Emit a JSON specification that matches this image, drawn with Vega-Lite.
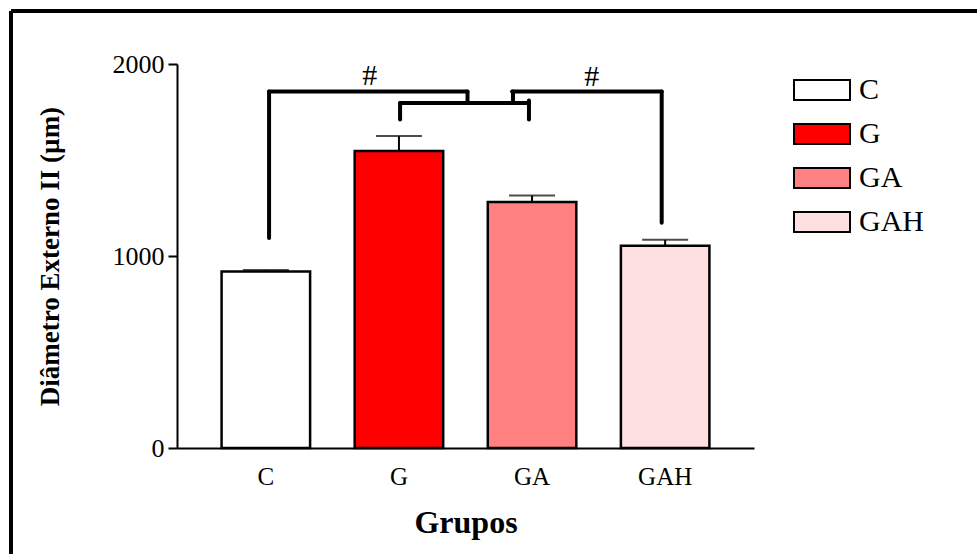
{
  "$schema": "https://vega.github.io/schema/vega-lite/v6.json",
  "width": 966,
  "height": 543,
  "autosize": {"type": "none"},
  "padding": {"left": 11, "top": 11, "right": 0, "bottom": 0},
  "background": "white",
  "config": {
    "view": {"stroke": "black", "strokeWidth": 4, "fill": "white", "strokeDash": [966, 1509, 543, 0]},
    "font": "Liberation Serif",
    "axis": {"labelFont": "Liberation Serif", "titleFont": "Liberation Serif", "labelColor": "black", "titleColor": "black", "domainColor": "black", "tickColor": "black", "domainWidth": 2, "tickWidth": 2, "grid": false, "titleFontWeight": "bold"},
    "axisY": {"offset": -166, "labelFontSize": 26, "tickSize": 9, "labelPadding": 4, "titleFontSize": 27, "titlePadding": 48},
    "axisX": {"offset": -106, "labelFontSize": 25, "ticks": false, "labelPadding": 16, "titleFontSize": 32, "titlePadding": 18, "labelAngle": 0}
  },
  "datasets": {
    "bars": [
      {"group": "C", "mean": 919, "err": 8},
      {"group": "G", "mean": 1547, "err": 78},
      {"group": "GA", "mean": 1281, "err": 34},
      {"group": "GAH", "mean": 1054, "err": 30}
    ],
    "brackets": [
      {"x": 1.023, "x2": 1.023, "y": 1094, "y2": 1857},
      {"x": 1.023, "x2": 2.515, "y": 1857, "y2": 1857},
      {"x": 2.515, "x2": 2.515, "y": 1857, "y2": 1800},
      {"x": 2.008, "x2": 2.977, "y": 1797, "y2": 1797},
      {"x": 2.008, "x2": 2.008, "y": 1797, "y2": 1711},
      {"x": 2.977, "x2": 2.977, "y": 1810, "y2": 1711},
      {"x": 2.85, "x2": 3.975, "y": 1857, "y2": 1857},
      {"x": 2.857, "x2": 2.857, "y": 1857, "y2": 1800},
      {"x": 3.975, "x2": 3.975, "y": 1857, "y2": 1173}
    ],
    "signs": [
      {"x": 1.78, "y": 1939, "label": "#"},
      {"x": 3.45, "y": 1932, "label": "#"}
    ]
  },
  "layer": [
    {
      "data": {"name": "bars"},
      "layer": [
        {
          "mark": {"type": "errorbar", "ticks": {"size": 46, "thickness": 2, "color": "black"}, "rule": {"strokeWidth": 2, "color": "black"}},
          "encoding": {
            "x": {"field": "group", "type": "nominal", "title": "Grupos", "scale": {"domain": ["C", "G", "GA", "GAH"], "range": [166, 743], "padding": 0.335}},
            "y": {"field": "mean", "type": "quantitative", "title": "Diâmetro Externo II (µm)", "scale": {"domain": [0, 2000], "range": [437, 53], "nice": false, "zero": true}},
            "yError": {"field": "err"}
          }
        },
        {
          "mark": {"type": "bar", "stroke": "black", "strokeWidth": 2.5},
          "encoding": {
            "x": {"field": "group", "type": "nominal", "title": "Grupos", "scale": {"domain": ["C", "G", "GA", "GAH"], "range": [166, 743], "padding": 0.335}},
            "y": {"field": "mean", "type": "quantitative", "title": "Diâmetro Externo II (µm)", "scale": {"domain": [0, 2000], "range": [437, 53], "nice": false, "zero": true}, "axis": {"values": [0, 1000, 2000], "format": "d"}},
            "fill": {
              "field": "group", "type": "nominal",
              "scale": {"domain": ["C", "G", "GA", "GAH"], "range": ["#ffffff", "#ff0000", "#ff8080", "#ffe0e0"]},
              "legend": {"title": null, "orient": "none", "legendX": 782, "legendY": 50, "symbolType": "M-1,-0.357H1V0.357H-1Z", "symbolSize": 3136, "symbolStrokeColor": "black", "symbolStrokeWidth": 2, "symbolOpacity": 1, "labelFontSize": 30, "labelFont": "Liberation Serif", "labelColor": "black", "labelOffset": 8, "rowPadding": -12, "padding": 0}
            }
          }
        }
      ]
    },
    {
      "layer": [
        {
          "data": {"name": "brackets"},
          "mark": {"type": "rule", "strokeWidth": 4, "strokeCap": "round", "color": "black"},
          "encoding": {
            "x": {"field": "x", "type": "quantitative", "scale": {"domain": [0.3308, 4.669], "range": [166, 743], "nice": false, "zero": false}, "axis": null},
            "x2": {"field": "x2"},
            "y": {"field": "y", "type": "quantitative", "title": "Diâmetro Externo II (µm)", "scale": {"domain": [0, 2000], "range": [437, 53], "nice": false, "zero": true}},
            "y2": {"field": "y2"}
          }
        },
        {
          "data": {"name": "signs"},
          "mark": {"type": "text", "fontSize": 30, "font": "Liberation Serif", "color": "black", "baseline": "middle"},
          "encoding": {
            "x": {"field": "x", "type": "quantitative", "scale": {"domain": [0.3308, 4.669], "range": [166, 743], "nice": false, "zero": false}, "axis": null},
            "y": {"field": "y", "type": "quantitative", "title": "Diâmetro Externo II (µm)", "scale": {"domain": [0, 2000], "range": [437, 53], "nice": false, "zero": true}},
            "text": {"field": "label"}
          }
        }
      ]
    }
  ],
  "resolve": {"scale": {"x": "independent"}}
}
